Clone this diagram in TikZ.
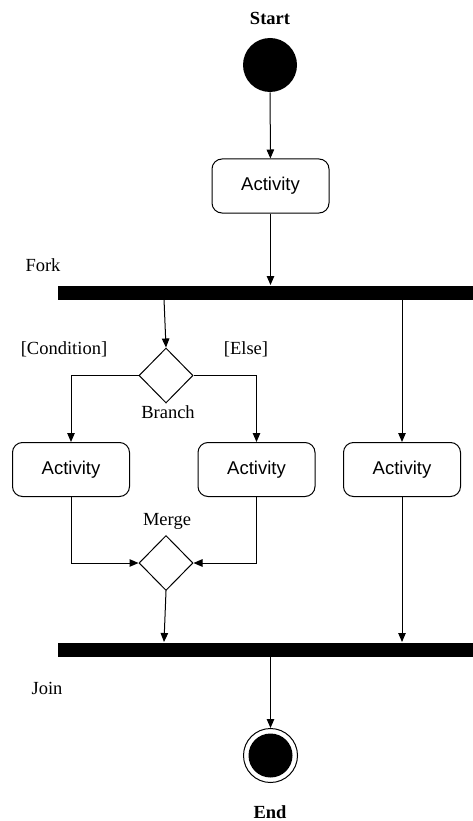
\documentclass[tikz,border=0pt]{standalone}
\usepackage{fontspec}
\setmainfont{Liberation Serif}
\setsansfont{Liberation Sans}
\usetikzlibrary{shapes.geometric,arrows.meta}

\begin{document}
\begin{tikzpicture}[x=1pt,y=-1pt,line width=1pt,
	activity/.style={draw, rounded corners=10pt, minimum width=117pt, minimum height=54pt, font=\sffamily\fontsize{18.5}{22}\selectfont},
	bar/.style={fill=black, inner sep=0pt, anchor=north west, minimum width=415pt, minimum height=14pt},
	decision/.style={draw, diamond, inner sep=0pt, minimum width=54pt, minimum height=55pt},
	txt/.style={font=\fontsize{18.5}{22}\selectfont},
	flow/.style={-{Triangle[length=9pt,width=7.5pt]}}]
	
	%Background
	\useasboundingbox (0,0) rectangle (472,821);
	
	%Start
	\node[txt, font=\bfseries\fontsize{18.5}{22}\selectfont] (startlbl) at (270,18) {Start};
	\node[circle, fill=black, minimum size=54pt, inner sep=0pt] (start) at (270,65) {};
	
	%Activity
	\node[activity] (act1) at (270.5,186) {Activity};
	
	%Fork
	\node[txt] (forklbl) at (43,265) {Fork};
	\node[bar] (fork) at (57,285) {};
	\coordinate (f1) at (164,299);
	
	%Branch
	\node[decision] (branch) at (166,375.5) {};
	\node[txt] (branchlbl) at (168,412) {Branch};
	\node[txt] (condlbl) at (64,349) {[Condition]};
	\node[txt] (elselbl) at (246,349) {[Else]};
	
	%Activities
	\node[activity] (actL) at (71,469.5) {Activity};
	\node[activity] (actM) at (256.5,469.5) {Activity};
	\node[activity] (actR) at (402,469.5) {Activity};
	
	%Merge
	\node[decision] (merge) at (166,563) {};
	\node[txt] (mergelbl) at (167,521) {Merge};
	
	%Join
	\node[bar] (join) at (57,642) {};
	\node[txt] (joinlbl) at (47,688) {Join};
	\coordinate (j1) at (164,642);
	
	%End
	\node[circle, draw, minimum size=54pt, inner sep=0pt] (end) at (270.5,755.5) {};
	\node[circle, fill=black, minimum size=44pt, inner sep=0pt] (endin) at (end) {};
	\node[txt, font=\bfseries\fontsize{18.5}{22}\selectfont] (endlbl) at (270,812) {End};
	
	%Flows
	\draw[flow] (start) -- (act1);
	\draw[flow] (act1) -- (act1 |- fork.north);
	\draw[flow] (f1) -- (branch.north);
	\draw[flow] (branch.west) -| (actL.north);
	\draw[flow] (branch.east) -| (actM.north);
	\draw[flow] (fork.south -| actR) -- (actR.north);
	\draw[flow] (actL.south) |- (merge.west);
	\draw[flow] (actM.south) |- (merge.east);
	\draw[flow] (merge.south) -- (j1);
	\draw[flow] (actR.south) -- (actR |- join.north);
	\draw[flow] (join.south -| end) -- (end.north);
	
\end{tikzpicture}
\end{document}
